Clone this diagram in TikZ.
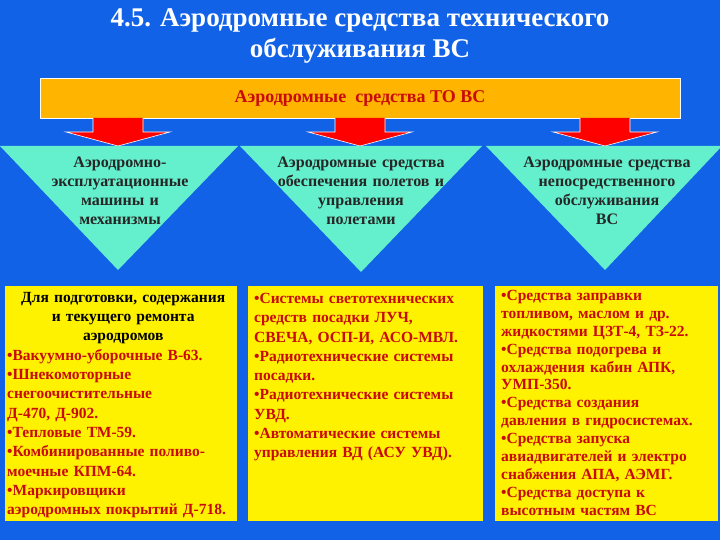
\documentclass[tikz,border=0pt]{standalone}
\usepackage{fontspec}
\setmainfont{Liberation Serif}[BoldFont={Liberation Serif Bold}]
\newfontfamily\ser{Liberation Serif}[BoldFont={Liberation Serif Bold}]
\begin{document}
\begin{tikzpicture}[x=1pt,y=-1pt,
  tri/.style={fill=cyanish,draw=none},
  arr/.style={fill=red,draw=white,line width=0.6pt},
  ybox/.style={fill=yellow,draw=none,anchor=north west,minimum width=#1,inner sep=0pt},
  ttx/.style={font=\ser\bfseries\fontsize{16}{19}\selectfont,text=black!85,align=center,text width=210pt},
  btx/.style={anchor=north west,inner sep=0pt,align=left,font=\ser\bfseries\fontsize{15.5}{19.3}\selectfont,text=dred}]
\definecolor{bg}{RGB}{18,98,232}
\definecolor{cyanish}{RGB}{100,240,205}
\definecolor{orng}{RGB}{255,180,0}
\definecolor{dred}{RGB}{200,10,10}
\useasboundingbox (0,0) rectangle (720,540);
\fill[bg] (0,0) rectangle (720,540);
\node[text=white,font=\ser\bfseries\fontsize{27}{31}\selectfont,align=center] (title) at (360,36) {4.5. Аэродромные средства технического\\ обслуживания ВС};
\node[fill=orng,draw=white,line width=0.8pt,minimum width=640pt,minimum height=40pt,font=\ser\bfseries\fontsize{18}{20}\selectfont,text=dred] (bar) at (360,98) {Аэродромные\ \ средства ТО ВС};
% arrows
\foreach \cx/\n in {118/a1,360/a2,605/a3}{
  \draw[arr] (\cx-25,118) -- (\cx-25,132) -- (\cx-52,132) -- (\cx,146) -- (\cx+52,132) -- (\cx+25,132) -- (\cx+25,118);
  \coordinate (\n) at (\cx,146);
}
% triangles
\fill[tri] (0,146) -- (238,146) -- (118,270) -- cycle;
\fill[tri] (240,146) -- (482,146) -- (361,272) -- cycle;
\fill[tri] (486,146) -- (722,146) -- (605,270) -- cycle;
\node[ttx] (t1) at (120,191) {Аэродромно-\\эксплуатационные\\машины и\\механизмы};
\node[ttx] (t2) at (361,191) {Аэродромные средства\\обеспечения полетов и\\управления\\полетами};
\node[ttx] (t3) at (607,191) {Аэродромные средства\\непосредственного\\обслуживания\\ВС};
% yellow boxes
\node[ybox=232pt,minimum height=235pt] (b1) at (5,286) {};
\node[ybox=235pt,minimum height=235pt] (b2) at (248,286) {};
\node[ybox=223pt,minimum height=235pt] (b3) at (495,286) {};
\node[btx,text width=232pt] (x1) at (7,292) {\centering\textcolor{black}{Для подготовки, содержания\\и текущего ремонта\\аэродромов}\par
\raggedright\textbullet Вакуумно-уборочные В-63.\\
\textbullet Шнекомоторные\\снегоочистительные\\Д-470, Д-902.\\
\textbullet Тепловые ТМ-59.\\
\textbullet Комбинированные поливо-\\моечные КПМ-64.\\
\textbullet Маркировщики\\аэродромных покрытий Д-718.};
\node[btx,text width=232pt] (x2) at (254,293) {\textbullet Системы светотехнических\\средств посадки ЛУЧ,\\СВЕЧА, ОСП-И, АСО-МВЛ.\\
\textbullet Радиотехнические системы\\посадки.\\
\textbullet Радиотехнические системы\\УВД.\\
\textbullet Автоматические системы\\управления ВД (АСУ УВД).};
\node[btx,text width=222pt,font=\ser\bfseries\fontsize{15.5}{17.9}\selectfont] (x3) at (501,290) {\textbullet Средства заправки\\топливом, маслом и др.\\жидкостями ЦЗТ-4, ТЗ-22.\\
\textbullet Средства подогрева и\\охлаждения кабин АПК,\\УМП-350.\\
\textbullet Средства создания\\давления в гидросистемах.\\
\textbullet Средства запуска\\авиадвигателей и электро\\снабжения АПА, АЭМГ.\\
\textbullet Средства доступа к\\высотным частям ВС};
\end{tikzpicture}
\end{document}
